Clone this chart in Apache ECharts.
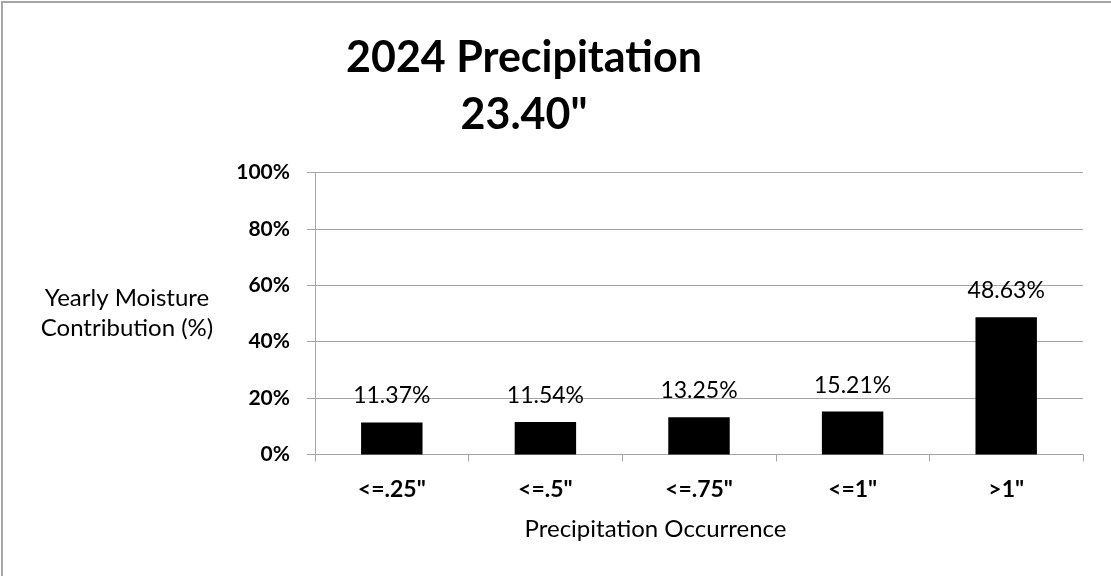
<!DOCTYPE html>
<html>
<head>
<meta charset="utf-8">
<script src="https://cdn.jsdelivr.net/npm/echarts@6/dist/echarts.min.js"></script>
<style>
  html, body { margin: 0; padding: 0; background: #fff; }
  #chart { width: 1111px; height: 576px; }
</style>
</head>
<body>
<div id="chart"></div>
<script>
// Share of the year's moisture by size of precipitation event
const categories = ['<=.25"', '<=.5"', '<=.75"', '<=1"', '>1"'];
const contribution = [11.37, 11.54, 13.25, 15.21, 48.63];
const titleLines = ['2024 Precipitation', '23.40"'];
const yAxisName = 'Yearly Moisture\nContribution (%)';
const xAxisName = 'Precipitation Occurrence';

const FONT = 'Lato, "Open Sans", sans-serif';
const GRAY = '#a6a6a6';

const chart = echarts.init(document.getElementById('chart'), null, { renderer: 'canvas' });

chart.setOption({
  backgroundColor: '#ffffff',
  animation: false,
  title: {
    text: titleLines.join('\n'),
    left: 524,
    top: 30,
    padding: 0,
    textAlign: 'center',
    textStyle: {
      fontFamily: FONT,
      fontWeight: 'bold',
      fontSize: 43,
      lineHeight: 57,
      color: '#000'
    }
  },
  graphic: [{
    type: 'rect',
    shape: { x: 2, y: 2, width: 1200, height: 700 },
    style: { fill: null, stroke: GRAY, lineWidth: 2 },
    silent: true
  }],
  grid: {
    left: 315,
    right: 28,
    top: 172.5,
    bottom: 121.5,
    containLabel: false
  },
  xAxis: {
    type: 'category',
    data: categories,
    name: xAxisName,
    nameLocation: 'middle',
    nameGap: 63,
    nameTextStyle: {
      fontFamily: FONT,
      fontSize: 24,
      color: '#000',
      align: 'center',
      padding: [0, 87, 0, 0]
    },
    axisLine: { lineStyle: { color: GRAY, width: 1 } },
    axisTick: { show: true, length: 7, lineStyle: { color: GRAY } },
    axisLabel: {
      fontFamily: FONT,
      fontWeight: 'bold',
      fontSize: 23,
      color: '#000',
      margin: 24
    },
    splitLine: { show: false }
  },
  yAxis: {
    type: 'value',
    min: 0,
    max: 100,
    interval: 20,
    name: yAxisName,
    nameLocation: 'middle',
    nameRotate: 0,
    nameGap: 188,
    nameTextStyle: {
      fontFamily: FONT,
      fontSize: 24,
      lineHeight: 30,
      color: '#000',
      align: 'center',
      padding: [4, 0, 0, 0]
    },
    axisLine: { show: true, lineStyle: { color: GRAY, width: 1 } },
    axisTick: { show: true, length: 8, lineStyle: { color: GRAY } },
    axisLabel: {
      formatter: '{value}%',
      fontFamily: FONT,
      fontWeight: 'bold',
      fontSize: 21,
      color: '#000',
      margin: 25,
      padding: [6, 0, 0, 0]
    },
    splitLine: { show: true, lineStyle: { color: GRAY, width: 1 } }
  },
  series: [{
    type: 'bar',
    data: contribution,
    barWidth: '40%',
    itemStyle: { color: '#000' },
    label: {
      show: true,
      position: 'top',
      distance: 15,
      formatter: p => p.value.toFixed(2) + '%',
      fontFamily: FONT,
      fontSize: 23,
      color: '#000'
    }
  }]
});
</script>
</body>
</html>
